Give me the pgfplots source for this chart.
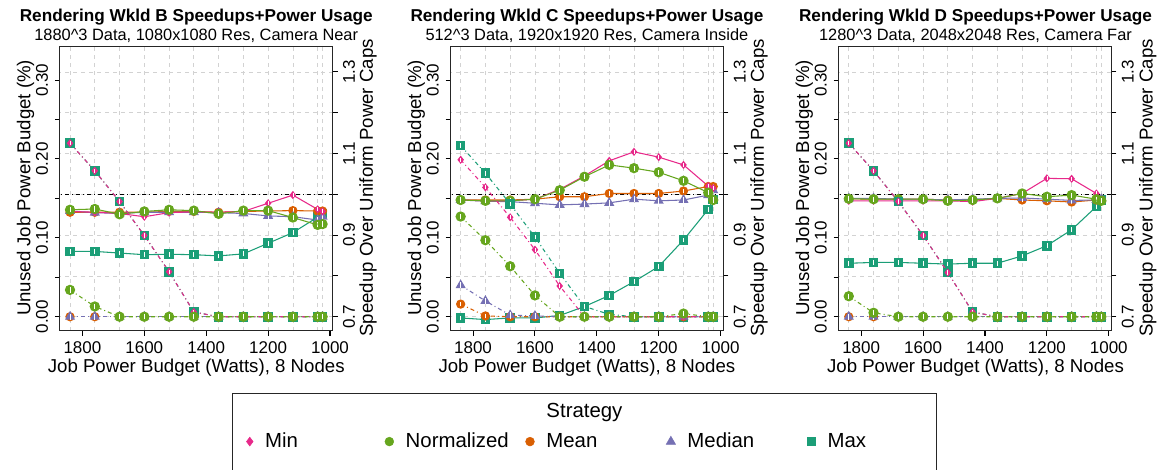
\documentclass[border=0pt]{standalone}
\usepackage{pgfplots}
\usepackage{pgfplotstable}
\pgfplotsset{compat=1.18}
\usepackage{fontspec}
\setmainfont{Liberation Sans}

\definecolor{cMin}{HTML}{E7298A}
\definecolor{cNorm}{HTML}{66A61E}
\definecolor{cMean}{HTML}{D95F02}
\definecolor{cMed}{HTML}{7570B3}
\definecolor{cMax}{HTML}{1B9E77}

\newcommand{\wbar}{\pgfscope\pgfsetstrokecolor{white}\pgfsetdash{}{0pt}\pgfsetlinewidth{0.5pt}%
 \pgfpathmoveto{\pgfqpoint{0pt}{-0.5\pgfplotmarksize}}\pgfpathlineto{\pgfqpoint{0pt}{0.5\pgfplotmarksize}}\pgfusepathqstroke\endpgfscope}
\pgfdeclareplotmark{wsq}{\pgfpathrectangle{\pgfqpoint{-\pgfplotmarksize}{-\pgfplotmarksize}}{\pgfqpoint{2\pgfplotmarksize}{2\pgfplotmarksize}}\pgfusepathqfill\wbar}
\pgfdeclareplotmark{wci}{\pgfpathcircle{\pgfpointorigin}{\pgfplotmarksize}\pgfusepathqfill\wbar}
\pgfdeclareplotmark{wtr}{\pgfpathmoveto{\pgfqpoint{0pt}{\pgfplotmarksize}}\pgfpathlineto{\pgfqpoint{0.866\pgfplotmarksize}{-0.5\pgfplotmarksize}}\pgfpathlineto{\pgfqpoint{-0.866\pgfplotmarksize}{-0.5\pgfplotmarksize}}\pgfpathclose\pgfusepathqfill\wbar}
\pgfdeclareplotmark{wdm}{\pgfpathmoveto{\pgfqpoint{0pt}{\pgfplotmarksize}}\pgfpathlineto{\pgfqpoint{0.8\pgfplotmarksize}{0pt}}\pgfpathlineto{\pgfqpoint{0pt}{-\pgfplotmarksize}}\pgfpathlineto{\pgfqpoint{-0.8\pgfplotmarksize}{0pt}}\pgfpathclose\pgfusepathqfill\wbar}

\pgfplotstableread{
x    minS  normS meanS medS  maxS  minU  normU meanU medU  maxU
1840 0.958 0.962 0.956 0.959 0.860 0.220 0.034 0     0     0.220
1760 0.956 0.964 0.956 0.955 0.860 0.185 0.013 0     0     0.185
1680 0.953 0.951 0.956 0.953 0.856 0.146 0     0     0     0.146
1600 0.945 0.958 0.956 0.956 0.852 0.103 0     0     0     0.103
1520 0.955 0.962 0.958 0.956 0.853 0.057 0     0     0     0.057
1440 0.957 0.960 0.958 0.956 0.852 0.006 0     0     0     0.006
1360 0.956 0.952 0.956 0.955 0.849 0     0     0     0     0
1280 0.958 0.960 0.958 0.953 0.854 0     0     0     0     0
1200 0.978 0.960 0.959 0.947 0.880 0     0     0     0     0
1120 0.998 0.943 0.960 0.945 0.906 0     0     0     0     0
1040 0.963 0.925 0.959 0.937 0.944 0     0     0     0     0
1024 0.958 0.927 0.959 0.945 0.953 0     0     0     0     0
}\dataB
\pgfplotstableread{
x    minS  normS meanS medS  maxS  minU  normU meanU medU  maxU
1840 0.986 0.986 0.986 0.986 0.697 0.199 0.127 0.016 0.040 0.217
1760 0.984 0.984 0.986 0.983 0.693 0.164 0.097 0.001 0.020 0.182
1680 0.984 0.984 0.986 0.982 0.697 0.126 0.064 0     0.002 0.143
1600 0.988 0.988 0.988 0.978 0.697 0.085 0.027 0     0.001 0.101
1520 1.012 1.010 0.994 0.974 0.703 0.039 0     0     0     0.055
1440 1.045 1.043 0.994 0.976 0.725 0     0     0     0     0.013
1360 1.082 1.072 1.002 0.979 0.752 0     0     0     0     0.003
1280 1.104 1.064 1.002 0.988 0.786 0     0     0     0     0
1200 1.091 1.054 1.002 0.984 0.823 0     0     0     0     0
1120 1.072 1.033 1.008 0.986 0.888 0     0.004 0     0     0
1040 1.020 1.004 1.019 0.998 0.963 0     0     0     0     0
1024 1.015 0.986 1.019 1.010 0.987 0     0     0     0     0
}\dataC
\pgfplotstableread{
x    minS  normS meanS medS  maxS  minU  normU meanU medU  maxU
1840 0.984 0.989 0.989 0.990 0.831 0.220 0.026 0     0     0.220
1760 0.984 0.988 0.988 0.990 0.833 0.185 0.005 0     0     0.185
1680 0.984 0.988 0.988 0.988 0.833 0.146 0     0     0     0.146
1600 0.984 0.988 0.988 0.988 0.831 0.103 0     0     0     0.103
1520 0.984 0.984 0.986 0.986 0.829 0.056 0     0     0     0.056
1440 0.982 0.986 0.986 0.988 0.831 0.006 0     0     0     0.006
1360 0.990 0.990 0.990 0.990 0.831 0     0     0     0     0
1280 1.002 1.002 0.986 0.991 0.849 0     0     0     0     0
1200 1.039 0.994 0.984 0.988 0.874 0     0     0     0     0
1120 1.038 0.998 0.981 0.985 0.913 0     0     0     0     0
1040 1.002 0.988 0.986 0.986 0.970 0     0     0     0     0
1024 0.986 0.984 0.986 0.988 0.986 0     0     0     0     0
}\dataD

\pgfplotsset{
 sMin/.style={color=cMin, mark=wdm, mark size=3.1pt},
 sNorm/.style={color=cNorm, mark=wci, mark size=3.9pt},
 sMean/.style={color=cMean, mark=wci, mark size=3.5pt},
 sMed/.style={color=cMed, mark=wtr, mark size=4.4pt},
 sMax/.style={color=cMax, mark=wsq, mark size=3.6pt},
 spd/.style={solid, line width=0.8pt, forget plot},
 unu/.style={line width=0.8pt, dash pattern=on 3pt off 2.25pt on 0.75pt off 2.25pt, forget plot},
 geom/.style={anchor=north west, scale only axis, width=204.75pt, height=213pt,
   xmin=991.4, xmax=1872.6, x dir=reverse,
   tick label style={font=\fontsize{12.75}{14}\selectfont},
   tick align=outside, major tick length=3.75pt},
 panelA/.style={geom, ymin=0.6658, ymax=1.361,
   axis x line*=bottom, axis y line*=right, axis line style={draw=none,-},
   xtick={1840,1760,1680,1600,1520,1440,1360,1280,1200,1120,1040,1024}, xticklabels={},
   xmajorgrids, xtick style={draw=none},
   ytick={0.7,0.8,0.9,1.0,1.1,1.2,1.3}, yticklabels={0.7,,0.9,,1.1,,1.3}, ymajorgrids,
   grid style={gray!35, dash pattern=on 3pt off 3pt, line width=0.5pt},
   ytick style={black, line width=0.8pt},
   yticklabel style={rotate=90, anchor=base}, yticklabel shift=13pt},
 panelB/.style={geom, ymin=-0.0177, ymax=0.342,
   xtick={1000,1200,1400,1600,1800}, xticklabels={1000,1200,1400,1600,1800},
   ytick={0,0.05,0.1,0.15,0.2,0.25,0.3}, yticklabels={0.00,,0.10,,0.20,,0.30},
   xtick pos=left, ytick pos=left,
   tick style={black, line width=0.8pt}, axis line style={line width=0.8pt, black!85},
   yticklabel style={rotate=90, anchor=base}, yticklabel shift=5.25pt,
   xticklabel style={anchor=base}, xticklabel shift=13.5pt},
}

\newcommand{\drawpanel}[6]{%
\begin{axis}[panelA, at={({#1*0.75pt},{-35.25pt})}]
 \addplot[black, line width=0.8pt, dash pattern=on 3pt off 2.25pt on 0.75pt off 2.25pt, forget plot] coordinates {(991.4,1) (1872.6,1)};
 \addplot[sMax, spd] table[x=x,y=maxS]{#4};
 \addplot[sMean, spd] table[x=x,y=meanS]{#4};
 \addplot[sMed, spd] table[x=x,y=medS]{#4};
 \addplot[sMin, spd] table[x=x,y=minS]{#4};
 \addplot[sNorm, spd] table[x=x,y=normS]{#4};
\end{axis}
\begin{axis}[panelB, at={({#1*0.75pt},{-35.25pt})}]
 \addplot[sMax, unu] table[x=x,y=maxU]{#4};
 \addplot[sMean, unu] table[x=x,y=meanU]{#4};
 \addplot[sMed, unu] table[x=x,y=medU]{#4};
 \addplot[sMin, unu] table[x=x,y=minU]{#4};
 \addplot[sNorm, unu] table[x=x,y=normU]{#4};
\end{axis}
\begin{scope}[x=0.75pt, y=-0.75pt]
\node[anchor=base, font=\fontsize{12.9}{15}\selectfont\bfseries] at (#3,21.7) {#5};
\node[anchor=base, font=\fontsize{12.3}{14}\selectfont] at (#3,40.3) {#6};
\node[rotate=90, anchor=base, font=\fontsize{14}{16}\selectfont] at ({#1-29.5},188) {Unused Job Power Budget (\%)};
\node[rotate=90, anchor=base, font=\fontsize{14}{16}\selectfont] at ({#2+40.5},188) {Speedup Over Uniform Power Caps};
\node[anchor=base, font=\fontsize{14}{16}\selectfont] at (#3,373) {Job Power Budget (Watts), 8 Nodes};
\end{scope}
}

\begin{document}
\begin{tikzpicture}
\begin{scope}[x=0.75pt, y=-0.75pt]
\path[use as bounding box] (0,0) rectangle (1161,464);
\end{scope}
\drawpanel{60}{332.7}{196.4}{\dataB}{Rendering Wkld B Speedups+Power Usage}{1880\^{}3 Data, 1080x1080 Res, Camera Near}
\drawpanel{451}{724}{587.5}{\dataC}{Rendering Wkld C Speedups+Power Usage}{512\^{}3 Data, 1920x1920 Res, Camera Inside}
\drawpanel{839.5}{1113.3}{976.4}{\dataD}{Rendering Wkld D Speedups+Power Usage}{1280\^{}3 Data, 2048x2048 Res, Camera Far}
\begin{scope}[x=0.75pt, y=-0.75pt]
\draw[line width=0.8pt, black!85] (232.7,470) -- (232.7,393.5) -- (937,393.5) -- (937,470);
\node[anchor=base, font=\fontsize{15.3}{18}\selectfont] at (585,418) {Strategy};
\end{scope}
\begin{axis}[hide axis, scale only axis, width=870.75pt, height=348pt, at={(0pt,-348pt)}, anchor=south west,
  xmin=0, xmax=1, ymin=0, ymax=1,
  legend columns=5,
  legend style={draw=none, fill=none, inner sep=0pt, outer sep=0pt, anchor=west,
    at={(axis description cs:0.2125,0.0474)}, font=\fontsize{15.3}{18}\selectfont,
    /tikz/every even column/.append style={column sep=0pt}}]
 \addlegendimage{only marks, mark=diamond*, color=cMin, mark size=3.3pt}
 \addlegendimage{only marks, mark=*, color=cNorm, mark size=3.3pt}
 \addlegendimage{only marks, mark=*, color=cMean, mark size=3.3pt}
 \addlegendimage{only marks, mark=triangle*, color=cMed, mark size=4pt}
 \addlegendimage{only marks, mark=square*, color=cMax, mark size=3.1pt}
 \legend{\hspace{7pt}\makebox[88pt][l]{Min},\hspace{7pt}\makebox[88pt][l]{Normalized},\hspace{7pt}\makebox[88pt][l]{Mean},\hspace{7pt}\makebox[88pt][l]{Median},\hspace{7pt}\makebox[88pt][l]{Max}}
\end{axis}
\end{tikzpicture}
\end{document}
